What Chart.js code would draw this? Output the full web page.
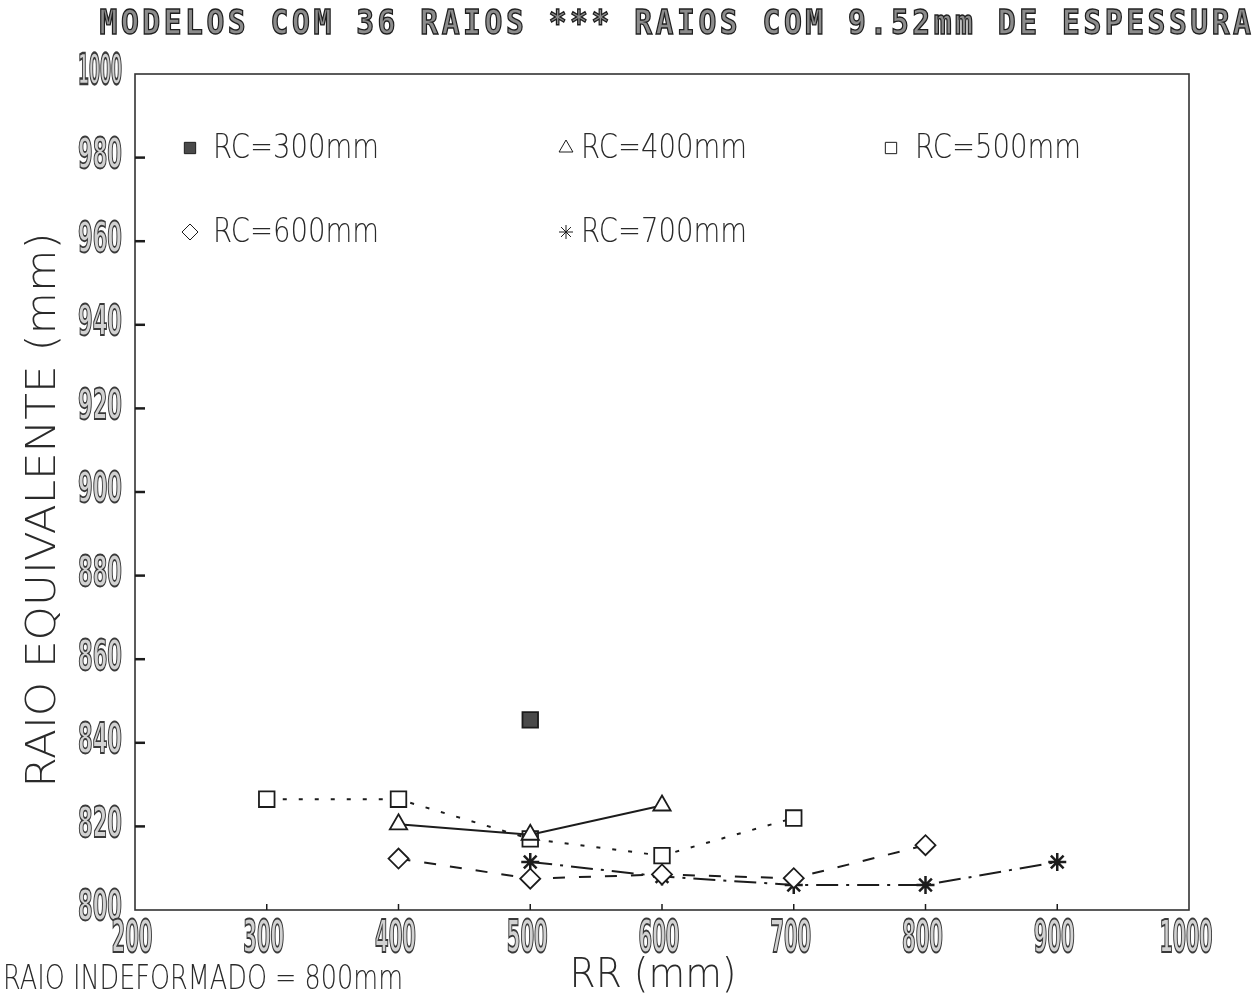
<!DOCTYPE html>
<html>
<head>
<meta charset="utf-8">
<title>Raio equivalente x RR</title>
<script src="https://cdn.jsdelivr.net/npm/chart.js@4.4.1/dist/chart.umd.min.js"></script>
<style>
  html, body { margin: 0; padding: 0; background: #ffffff; }
  #wrap { width: 1260px; height: 1007px; position: relative; }
  canvas { display: block; }
</style>
</head>
<body>
<div id="wrap"><canvas id="chart" width="1260" height="1007"></canvas></div>
<script>
// ---- texts ----
const titleText = 'MODELOS COM 36 RAIOS *** RAIOS COM 9.52mm DE ESPESSURA';
const xAxisTitle = 'RR (mm)';
const yAxisTitle = 'RAIO EQUIVALENTE (mm)';
const footnoteText = 'RAIO INDEFORMADO = 800mm';

// ---- tick labels ----
const xTickValues = [200, 300, 400, 500, 600, 700, 800, 900, 1000];
const yTickValues = [800, 820, 840, 860, 880, 900, 920, 940, 960, 980, 1000];

// ---- series: RR (mm) vs raio equivalente (mm) ----
const seriesLabels = ['RC=300mm', 'RC=400mm', 'RC=500mm', 'RC=600mm', 'RC=700mm'];
const rr300 = [500];
const req300 = [845.5];
const rr400 = [400, 500, 600];
const req400 = [820.5, 818, 825];
const rr500 = [300, 400, 500, 600, 700];
const req500 = [826.5, 826.5, 817, 813, 822];
const rr600 = [400, 500, 600, 700, 800];
const req600 = [812.3, 807.5, 808.5, 807.6, 815.5];
const rr700 = [500, 600, 700, 800, 900];
const req700 = [811.5, 808, 806, 806, 811.5];

function pts(xs, ys) { return xs.map((x, i) => ({ x: x, y: ys[i] })); }

const INK = '#1c1c1c';

// draws a string squeezed/stretched to a given width, centred on (cx, cy) by cap height
function fitText(ctx, s, cx, cy, width, size, o) {
  o = o || {};
  ctx.save();
  ctx.font = (o.weight || 'normal') + ' ' + size + 'px ' + (o.family || '"DejaVu Sans"');
  if (o.spacing && 'letterSpacing' in ctx) ctx.letterSpacing = o.spacing;
  const m = ctx.measureText(s).width;
  ctx.translate(cx, cy);
  if (o.rot) ctx.rotate(o.rot);
  ctx.scale(width / m, 1);
  ctx.textAlign = 'center';
  ctx.textBaseline = 'alphabetic';
  const base = size * 0.73 / 2;
  if (o.fill) { ctx.fillStyle = o.fill; ctx.fillText(s, 0, base); }
  if (o.stroke) { ctx.strokeStyle = o.stroke; ctx.lineWidth = (o.lw || 1) * m / width; ctx.strokeText(s, 0, base); }
  ctx.restore();
}

const framePlugin = {
  id: 'frameAndText',
  beforeDatasetsDraw(chart) {
    const ctx = chart.ctx;
    const a = chart.chartArea;
    const xs = chart.scales.x, ys = chart.scales.y;
    ctx.save();
    // plot frame
    ctx.strokeStyle = '#333333';
    ctx.lineWidth = 1.6;
    ctx.strokeRect(a.left, a.top, a.right - a.left, a.bottom - a.top);
    // tick marks on the left axis (inward)
    ctx.strokeStyle = INK;
    ctx.lineWidth = 2.5;
    yTickValues.forEach(v => {
      if (v === 800 || v === 1000) return;
      const y = ys.getPixelForValue(v);
      ctx.beginPath(); ctx.moveTo(a.left, y); ctx.lineTo(a.left + 10, y); ctx.stroke();
    });
    // tick marks on the bottom axis (short, upward)
    ctx.lineWidth = 1.5;
    xTickValues.forEach(v => {
      if (v === 200 || v === 1000) return;
      const x = xs.getPixelForValue(v);
      ctx.beginPath(); ctx.moveTo(x, a.bottom); ctx.lineTo(x, a.bottom - 6); ctx.stroke();
    });
    ctx.restore();

    // tick labels: hollow, outlined digits
    const tickStyle = { family: '"DejaVu Sans"', weight: 'bold', fill: '#d2d2d2', stroke: '#3a3a3a', lw: 0.9 };
    yTickValues.forEach(v => {
      const y = ys.getPixelForValue(v);
      fitText(ctx, String(v), 100, y - 5, 44, 42, tickStyle);
    });
    xTickValues.forEach(v => {
      const x = xs.getPixelForValue(v);
      const w = String(v).length > 3 ? 53 : 41;
      fitText(ctx, String(v), x - 3, 936, w, 44, tickStyle);
    });

    // axis titles, heading and note
    const thin = { family: '"DejaVu Sans"', weight: '200', fill: '#2a2a2a' };
    fitText(ctx, xAxisTitle, 653, 972, 167, 41, thin);
    fitText(ctx, yAxisTitle, 40, 510, 555, 40, Object.assign({ rot: -Math.PI / 2 }, thin));
    fitText(ctx, footnoteText, 203, 977, 400, 34, thin);
    fitText(ctx, titleText, 677, 22, 1155, 34,
      { family: '"DejaVu Sans Mono"', weight: 'bold', fill: '#8c8c8c', stroke: '#1e1e1e', lw: 1.2, spacing: '4px' });
  },
  afterDatasetsDraw(chart) {
    // legend inside the plot, three columns by two rows
    const ctx = chart.ctx;
    const slots = [
      { mx: 190, tx: 296, y: 148 },
      { mx: 566, tx: 664, y: 148 },
      { mx: 891, tx: 998, y: 148 },
      { mx: 190, tx: 296, y: 232 },
      { mx: 566, tx: 664, y: 232 }
    ];
    chart.data.datasets.forEach((ds, i) => {
      const s = slots[i];
      ctx.save();
      ctx.fillStyle = ds.legendFill;
      ctx.strokeStyle = INK;
      Chart.helpers.drawPoint(ctx, {
        pointStyle: ds.pointStyle, radius: ds.legendRadius, rotation: 0,
        borderWidth: ds.pointBorderWidth
      }, s.mx, s.y);
      ctx.restore();
      fitText(ctx, ds.label, s.tx, s.y - 2, 166, 33, { family: '"DejaVu Sans"', weight: '200', fill: '#2a2a2a' });
    });
  }
};

const common = { borderColor: INK, pointBorderColor: INK, borderWidth: 2, pointBorderWidth: 1.8, tension: 0 };

const chart = new Chart(document.getElementById('chart'), {
  type: 'line',
  data: {
    datasets: [
      Object.assign({}, common, {
        label: seriesLabels[0], data: pts(rr300, req300), showLine: false,
        pointStyle: 'rect', pointRadius: 11, pointBackgroundColor: '#4a4a4a', legendFill: '#4a4a4a', legendRadius: 8
      }),
      Object.assign({}, common, {
        label: seriesLabels[1], data: pts(rr400, req400),
        pointStyle: 'triangle', pointRadius: 10, pointBackgroundColor: '#ffffff', legendFill: '#ffffff', legendRadius: 8
      }),
      Object.assign({}, common, {
        label: seriesLabels[2], data: pts(rr500, req500), borderDash: [4, 12],
        pointStyle: 'rect', pointRadius: 11, pointBackgroundColor: '#ffffff', legendFill: '#ffffff', legendRadius: 8
      }),
      Object.assign({}, common, {
        label: seriesLabels[3], data: pts(rr600, req600), borderDash: [12, 14],
        pointStyle: 'rectRot', pointRadius: 10, pointBackgroundColor: '#ffffff', legendFill: '#ffffff', legendRadius: 8
      }),
      Object.assign({}, common, {
        label: seriesLabels[4], data: pts(rr700, req700), borderDash: [22, 8, 3, 8],
        pointStyle: 'star', pointRadius: 9, pointBorderWidth: 2.5, pointBackgroundColor: INK, legendFill: INK, legendRadius: 7
      })
    ]
  },
  options: {
    responsive: false,
    animation: false,
    devicePixelRatio: 1,
    layout: { padding: { left: 135, right: 71, top: 74, bottom: 97 } },
    scales: {
      x: { type: 'linear', min: 200, max: 1000, display: false },
      y: { type: 'linear', min: 800, max: 1000, display: false }
    },
    plugins: {
      legend: { display: false },
      tooltip: { enabled: false },
      title: { display: false }
    }
  },
  plugins: [framePlugin]
});
</script>
</body>
</html>
